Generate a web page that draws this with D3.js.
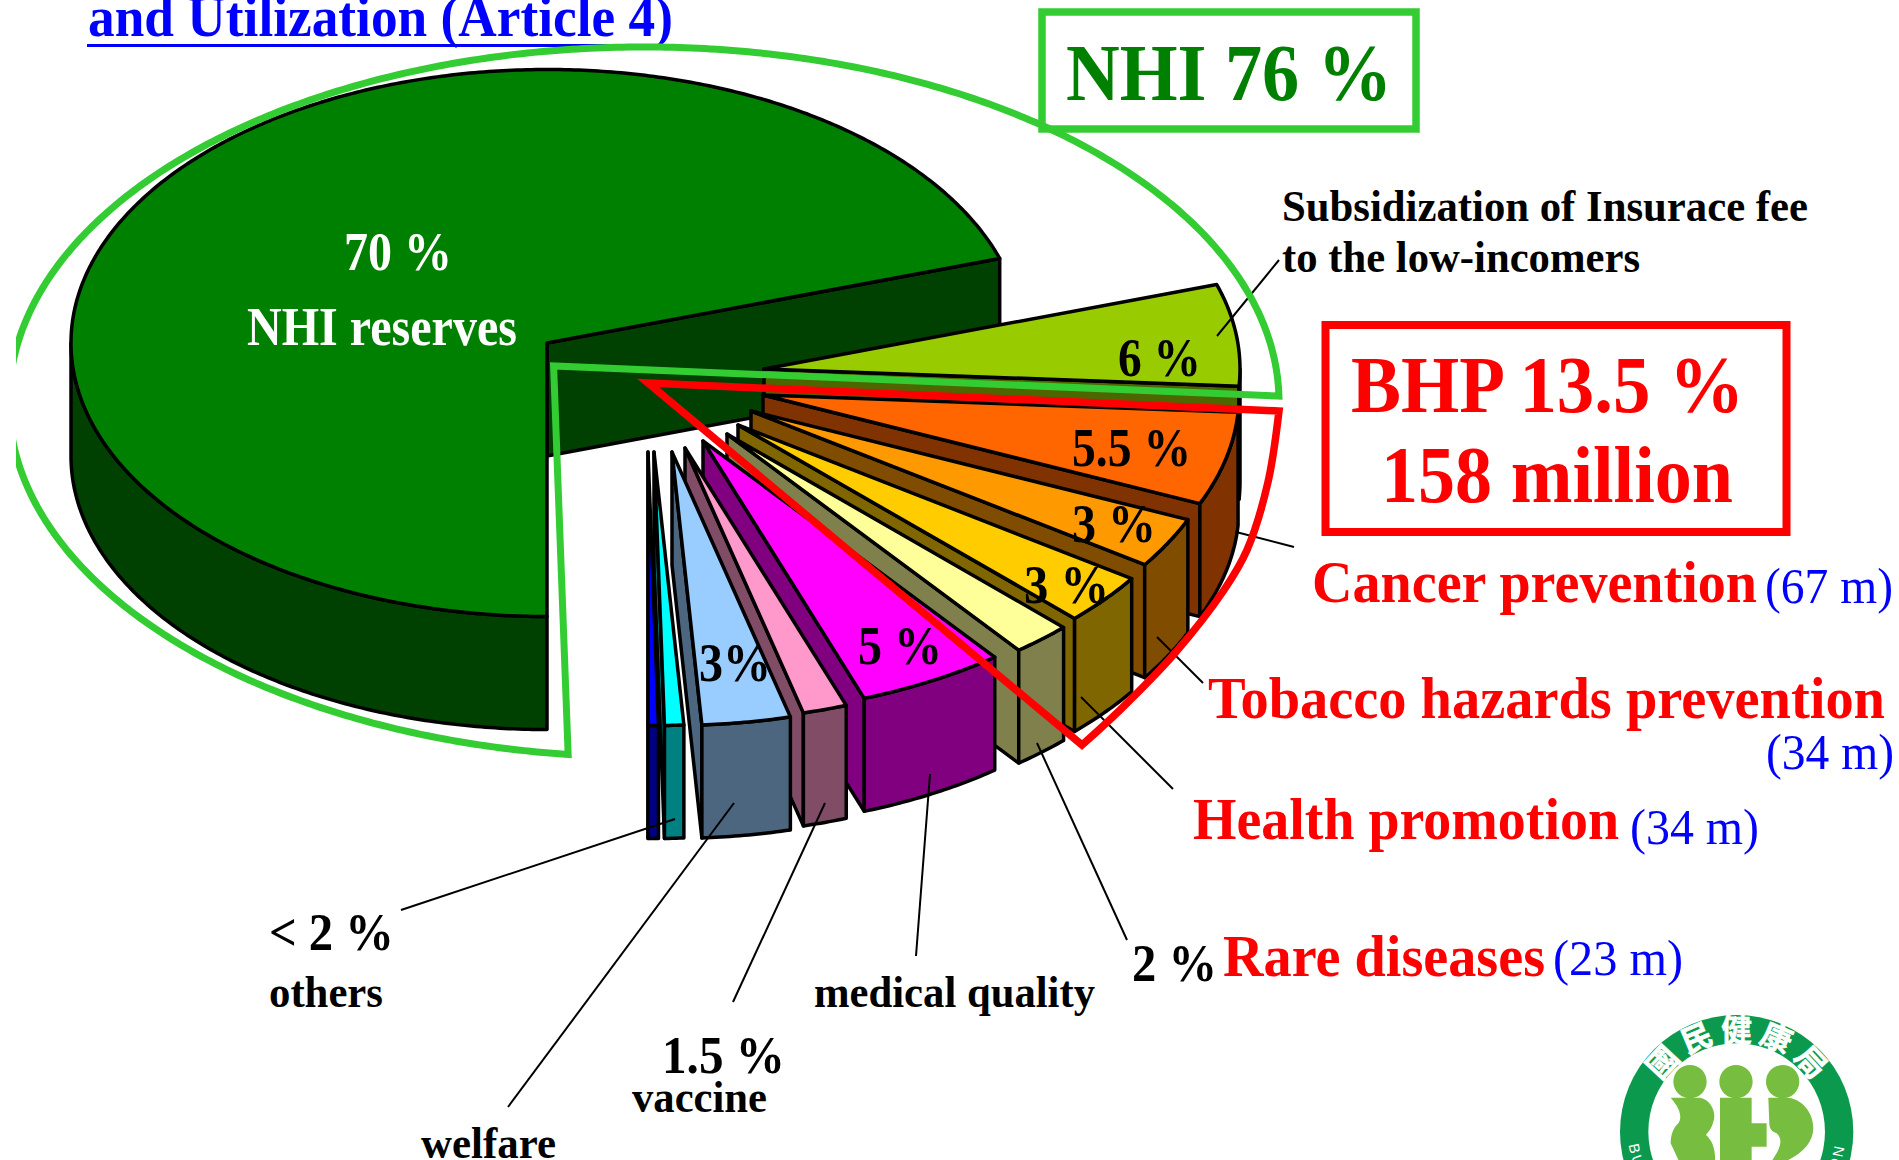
<!DOCTYPE html>
<html><head><meta charset="utf-8">
<style>html,body{margin:0;padding:0;background:#fff;overflow:hidden}svg{display:block}</style>
<script src="https://cdn.jsdelivr.net/npm/d3@7/dist/d3.min.js"></script>
</head><body>
<script>
// ---- data ----
const categories = ["NHI reserves","Subsidization of Insurace fee","Cancer prevention","Tobacco hazards prevention","Health promotion","Rare diseases","medical quality","vaccine","welfare","others A","others B"];
const shares = [70,6,5.5,3,3,2,5,1.5,3,0.65,0.35];
const millions = [null,null,67,34,34,23,null,null,null,null,null];

// ---- style and layout ----
const faceColors = ["#008000","#99CC00","#FF6600","#FF9900","#FFCC00","#FFFF99","#FF00FF","#FF99CC","#99CCFF","#00FFFF","#0000FF"];
const wallColors = ["#004000","#4D6600","#803300","#804C00","#806600","#80804C","#800080","#804C66","#4C6680","#008080","#000080"];
const explodeX = [0,217,216,204,191,180,156,138,125,107,101];
const explodeY = [0,26,52,68,82,91,98,105,109,109,109];
const W=1899,H=1160,cx=547,cy=343,rx=476,ry=273.5,depth=113;
const SERIF='"Liberation Serif","Times New Roman",serif';

const svg=d3.select("body").append("svg").attr("width",W).attr("height",H).attr("viewBox",`0 0 ${W} ${H}`);

const pie=d3.pie().sort(null).value(d=>d).startAngle(Math.PI).endAngle(3*Math.PI);
const arcs=pie(shares);
const radX=d3.scaleLinear().domain([0,1]).range([0,rx]);
const radY=d3.scaleLinear().domain([0,1]).range([0,ry]);
const pt=(a,ox,oy,dz=0)=>[cx+ox+radX(Math.sin(a)),cy+oy-radY(Math.cos(a))+dz];
const steps=(a0,a1)=>{const n=Math.max(2,Math.ceil(Math.abs(a1-a0)/0.01));return d3.range(n+1).map(i=>a0+(a1-a0)*i/n);};
const line=d3.line();

const pieG=svg.append("g").attr("stroke","#000").attr("stroke-width",3.5).attr("stroke-linejoin","round");
arcs.forEach((d,i)=>{
  const ox=explodeX[i],oy=explodeY[i],a0=d.startAngle,a1=d.endAngle;
  const apex=[cx+ox,cy+oy];
  const g=pieG.append("g").attr("class","slice").attr("data-name",categories[i]);
  g.append("path").attr("fill",wallColors[i])
    .attr("d",line([apex,pt(a1,ox,oy),pt(a1,ox,oy,depth),[apex[0],apex[1]+depth]])+"Z");
  let lo=Math.max(a0,Math.PI/2),hi=Math.min(a1,3*Math.PI/2);
  if(a0>=2*Math.PI){lo=Math.max(a0,2.5*Math.PI);hi=Math.min(a1,3.5*Math.PI);}
  if(hi>lo){
    const s=steps(lo,hi);
    g.append("path").attr("fill",wallColors[i])
      .attr("d",line(s.map(a=>pt(a,ox,oy)).concat(s.slice().reverse().map(a=>pt(a,ox,oy,depth))))+"Z");
  }
  g.append("path").attr("fill",faceColors[i])
    .attr("d",line([apex].concat(steps(a0,a1).map(a=>pt(a,ox,oy))))+"Z");
});

// ---- leader lines ----
const leaders=[[1279,260,1217,336],[1236,532,1294,547],[1157,637,1203,683],[1081,697,1173,789],[1037,743,1127,940],[930,774,916,956],[825,803,733,1002],[734,803,508,1107],[675,819,401,910]];
svg.append("g").selectAll("line").data(leaders).join("line")
  .attr("x1",d=>d[0]).attr("y1",d=>d[1]).attr("x2",d=>d[2]).attr("y2",d=>d[3])
  .attr("stroke","#000").attr("stroke-width",2);

function label(t,x0,x1,y,size,fill,weight="bold"){
  const extra=t.endsWith("%")?4:t.endsWith(")")?2:0;
  return svg.append("text").text(t).attr("x",x0).attr("y",y).attr("font-family",SERIF)
    .attr("font-size",size).attr("font-weight",weight).attr("fill",fill)
    .attr("textLength",x1-x0+extra).attr("lengthAdjust","spacingAndGlyphs");
}
label("and Utilization (Article 4)",88,671,36,58,"#0000FF");
svg.append("line").attr("x1",87).attr("x2",672).attr("y1",45.5).attr("y2",45.5).attr("stroke","#0000FF").attr("stroke-width",3);

// ---- outlines ----
svg.append("clipPath").attr("id","clipL").append("rect").attr("x",16).attr("y",0).attr("width",W).attr("height",H);
const greEll={cx:644,cy:402,rx:635,ry:355};
const angStart=Math.atan2((757-greEll.cy)/greEll.ry,(567.6-greEll.cx)/greEll.rx);
const angEnd=Math.atan2((396-greEll.cy)/greEll.ry,(1279-greEll.cx)/greEll.rx)+2*Math.PI;
const greenPts=steps(angStart,angEnd).map(t=>[greEll.cx+greEll.rx*Math.cos(t),greEll.cy+greEll.ry*Math.sin(t)]);
svg.append("path").attr("clip-path","url(#clipL)").attr("fill","none").attr("stroke","#33CC33").attr("stroke-width",7).attr("stroke-linejoin","miter")
  .attr("d",line([[553.6,366]].concat(greenPts))+"Z");
const redRim=[[1279,411],[1268,482],[1247,550],[1224,590],[1175,653],[1120,710],[1082,745]];
const redCurve=d3.line().curve(d3.curveCatmullRom.alpha(0.5))(redRim);
svg.append("path").attr("fill","none").attr("stroke","#FF0000").attr("stroke-width",7.5).attr("stroke-linejoin","miter")
  .attr("d","M648,383L1279,411"+redCurve.replace(/^M[^C]*/,"")+"Z");

svg.append("rect").attr("x",1042).attr("y",12).attr("width",374).attr("height",117).attr("fill","none").attr("stroke","#33CC33").attr("stroke-width",7.5);
svg.append("rect").attr("x",1325.5).attr("y",325).attr("width",461).attr("height",207).attr("fill","none").attr("stroke","#FF0000").attr("stroke-width",8);

// ---- labels ----
label("NHI 76 %",1066,1388,100,80,"#008000");
label("BHP 13.5 %",1351,1740,412,80,"#FF0000");
label("158 million",1381,1733,502,80,"#FF0000");
label("Subsidization of Insurace fee",1282,1808,221,45,"#000");
label("to the low-incomers",1282,1640,272,45,"#000");
label("70 %",344,448,270,54,"#fff");
label(categories[0],247,517,345,54,"#fff");
label("6 %",1118,1197,376,54,"#000");
label("5.5 %",1072,1187,466,54,"#000");
label("3 %",1072,1152,542,54,"#000");
label("3 %",1024,1105,603,54,"#000");
label("5 %",858,938,664,54,"#000");
label("3%",699,767,681,54,"#000");
label(categories[2],1312,1757,602,60,"#FF0000");
label(`(${millions[2]} m)`,1765,1891,603,50,"#0000FF","normal");
label(categories[3],1208,1885,718,60,"#FF0000");
label(`(${millions[3]} m)`,1766,1892,769,50,"#0000FF","normal");
label(categories[4],1193,1619,839,60,"#FF0000");
label(`(${millions[4]} m)`,1630,1757,844,50,"#0000FF","normal");
label(categories[5],1223,1545,976,60,"#FF0000");
label(`(${millions[5]} m)`,1553,1681,975,50,"#0000FF","normal");
label("2 %",1132,1213,981,52,"#000");
label("< 2 %",269,390,950,52,"#000");
label("others",269,383,1007,45,"#000");
label("welfare",421,556,1158,45,"#000");
label("1.5 %",662,781,1073,52,"#000");
label(categories[7],632,767,1112,45,"#000");
label(categories[6],814,1095,1007,45,"#000");

// ---- logo ----
const logo=svg.append("g").attr("transform","translate(1580,1000) scale(0.3333)");
const lc=[470,395];
logo.append("circle").attr("cx",lc[0]).attr("cy",lc[1]).attr("r",350).attr("fill","#0B9A4D");
logo.append("circle").attr("cx",lc[0]).attr("cy",lc[1]).attr("r",265).attr("fill","#fff");
[330,468,608].forEach(x=>logo.append("circle").attr("cx",x).attr("cy",245).attr("r",50).attr("fill","#77BD3F"));
["M272,293L360,293C395,300 410,340 400,365C395,385 385,395 378,405C395,420 408,445 405,490L300,490L272,430C272,410 278,385 295,370C305,355 305,330 272,293Z",
 "M420,293H515V370H560V440H515V490H420Z",
 "M565,293H625C675,300 700,345 700,385C700,430 660,470 600,490L570,490C600,450 612,420 590,400C575,395 568,385 568,370Z"]
 .forEach(d=>logo.append("path").attr("d",d).attr("fill","#77BD3F"));
const zh=["國","民","健","康","局"], zhAng=[-47,-23,0,23,47];
zh.forEach((c,i)=>{
  logo.append("text").text(c).attr("transform",`translate(${lc[0]},${lc[1]}) rotate(${zhAng[i]}) translate(0,-272)`)
    .attr("text-anchor","middle").attr("font-family",'"Noto Sans CJK TC"').attr("font-weight","bold").attr("font-size",92).attr("fill","#fff").attr("stroke","#fff").attr("stroke-width",2);
});
logo.append("path").attr("id","logoArc").attr("fill","none").attr("d",`M${lc[0]-328},${lc[1]-10}A328,328 0 1 0 ${lc[0]+328},${lc[1]-10}`);
logo.append("text").attr("font-family",'"Liberation Sans",sans-serif').attr("font-size",44).attr("fill","#fff").attr("letter-spacing",8)
  .append("textPath").attr("href","#logoArc").attr("startOffset","50%").attr("text-anchor","middle").text("BUREAU OF HEALTH PROMOTION");
</script>
</body></html>
